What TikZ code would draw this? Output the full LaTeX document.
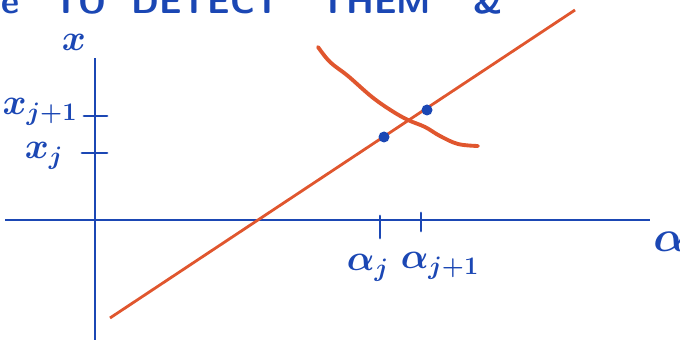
\documentclass[tikz,border=0pt]{standalone}
\usepackage{tikz}
\usetikzlibrary{positioning, calc}
\usepackage{xcolor}
\definecolor{Pen}{HTML}{1B47B4}
\definecolor{Marker}{HTML}{E0562E}

\begin{document}
\begin{tikzpicture}[
            x=0.02cm, y=-0.02cm,
            axis/.style={draw=Pen, line width=1.7pt},
            tick/.style={draw=Pen, line width=1.7pt, line cap=round},
            trend/.style={draw=Marker, line width=1.6pt},
            wiggle/.style={draw=Marker, line width=2.2pt, line cap=round, line join=round},
            dot/.style={circle, fill=Pen, inner sep=0pt, minimum size=0.22cm},
            label/.style={text=Pen, font=\huge\boldmath, inner sep=1pt},
            heading/.style={text=Pen, font=\sffamily\bfseries\fontsize{20}{20}\selectfont, anchor=base, inner sep=0pt}
        ]
            \useasboundingbox (0,0) rectangle (680,344);
            \clip (0,0) rectangle (680,344);

            % cut-off heading at the top
            \node[heading] (w1) at (10,14) {e};
            \node[heading] (w2) at (80,14) {TO};
            \node[heading] (w3) at (206,14) {DETECT};
            \node[heading] (w4) at (376,14) {THEM};
            \node[heading] (w5) at (488,14) {\&};

            % axes
            \coordinate (yb) at (95,340);
            \coordinate (yt) at (95,58);
            \coordinate (xl) at (5,220);
            \coordinate (xr) at (650,220);
            \draw[axis] (yb) -- (yt);
            \draw[axis] (xl) -- (xr);
            \node[label] (xname) at (74,42) {$x$};
            \node[label, font=\fontsize{34}{34}\selectfont\boldmath] (aname) at (670,242) {$\alpha$};

            % ticks on the x axis
            \coordinate (t1a) at (380,216);
            \coordinate (t1b) at (380,238);
            \coordinate (t2a) at (421,213);
            \coordinate (t2b) at (421,231);
            \draw[tick] (t1a) -- (t1b);
            \draw[tick] (t2a) -- (t2b);
            \node[label] (aj) at (368,268) {$\alpha_j$};
            \node[label] (aj1) at (440,266) {$\alpha_{j+1}$};

            % ticks on the x value axis
            \coordinate (s1a) at (84,116);
            \coordinate (s1b) at (107,116);
            \coordinate (s2a) at (82,153);
            \coordinate (s2b) at (107,153);
            \draw[tick] (s1a) -- (s1b);
            \draw[tick] (s2a) -- (s2b);
            \node[label] (xj1) at (40,112) {$x_{j+1}$};
            \node[label] (xj) at (44,156) {$x_j$};

            % secant line and the curve
            \coordinate (la) at (110,318);
            \coordinate (lb) at (575,10);
            \draw[trend] (la) -- (lb);
            \draw[wiggle] plot[smooth, tension=0.6] coordinates {(318,47) (330,62) (348,76) (372,97) (392,111) (408,120) (425,127) (440,136) (458,144) (478,146)};

            % iterates on the line
            \node[dot] (pj) at (384,137) {};
            \node[dot] (pj1) at (427,110) {};
        \end{tikzpicture}
\end{document}
